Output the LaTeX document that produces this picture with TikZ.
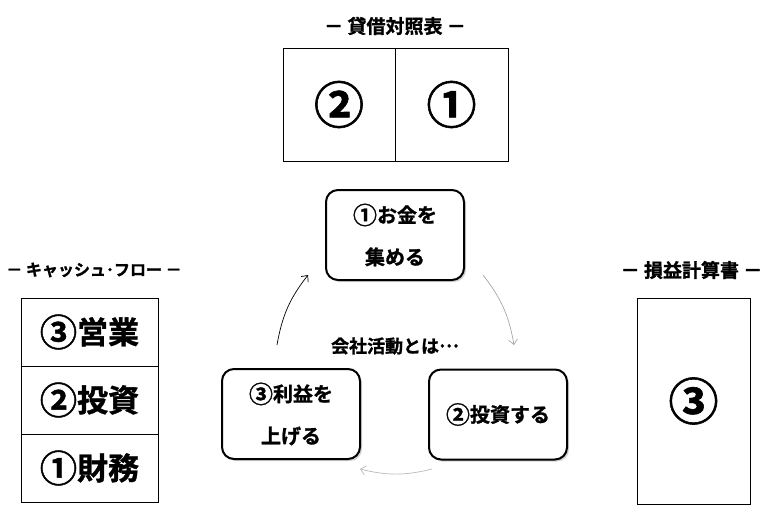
\documentclass[tikz,border=0pt]{standalone}
\usepackage{fontspec}
\setmainfont{Noto Sans CJK JP}[BoldFont={Noto Sans CJK JP Bold},BoldFeatures={FakeBold=1.2}]
\usetikzlibrary{positioning,shadows,arrows.meta}
\newcommand{\cnum}[1]{\raisebox{-0.08em}{\scalebox{1.2}{#1}}}
\begin{document}
\begin{tikzpicture}[x=1pt,y=1pt,
    sheet/.style={draw,line width=0.8pt,inner sep=0pt,outer sep=0pt},
    title/.style={font=\fontsize{19}{19}\selectfont\bfseries},
    bignum/.style={font=\fontsize{50}{50}\selectfont\bfseries},
    cfbox/.style={sheet,minimum width=137pt,minimum height=68pt,font=\fontsize{31}{31}\selectfont\bfseries},
    stepbox/.style={draw,line width=2pt,rounded corners=12pt,minimum width=138pt,minimum height=90pt,align=center,fill=white,
      drop shadow={opacity=0.35,shadow xshift=2pt,shadow yshift=-2pt},font=\fontsize{20}{42}\selectfont\bfseries},
    cycle/.style={-{Straight Barb[length=5pt,width=9pt]},line width=0.7pt,bend left=14}]
    \useasboundingbox (0,0) rectangle (773,523);

    \node[title] (bsT) at (395,497) {－ 貸借対照表 －};
    \node[sheet,minimum width=112pt,minimum height=113pt,bignum] (bsL) at (339,418.5) {②};
    \node[sheet,minimum width=113pt,minimum height=113pt,bignum,anchor=west] (bsR) at (bsL.east) {①};

    \node[title,font=\fontsize{16}{16}\selectfont\bfseries] (cfT) at (94,253) {－ キャッシュ･フロー －};
    \node[cfbox] (cf3) at (89.5,191) {\cnum{③}営業};
    \node[cfbox,below=0pt of cf3] (cf2) {\cnum{②}投資};
    \node[cfbox,below=0pt of cf2] (cf1) {\cnum{①}財務};

    \node[title] (plT) at (691.5,253) {－ 損益計算書 －};
    \node[sheet,minimum width=113pt,minimum height=206pt,bignum] (pl) at (693.5,122) {③};

    \node[stepbox] (fund) at (395,288) {\cnum{①}お金を\\集める};
    \node[stepbox] (invest) at (498,108.5) {\cnum{②}投資する};
    \node[stepbox] (profit) at (291,109) {\cnum{③}利益を\\上げる};
    \node[font=\fontsize{18}{18}\selectfont\bfseries] (act) at (395,177) {会社活動とは\raisebox{0.3em}{…}};

    \coordinate (upA) at (277,178);
    \coordinate (upB) at (308,248);
    \coordinate (dnA) at (483,248);
    \coordinate (dnB) at (514,178);
    \coordinate (bkA) at (432,54);
    \coordinate (bkB) at (360,54);
    \draw[cycle] (upA) to (upB);
    \draw[cycle,gray!70] (dnA) to (dnB);
    \draw[cycle,gray!55] (bkA) to (bkB);
\end{tikzpicture}
\end{document}
